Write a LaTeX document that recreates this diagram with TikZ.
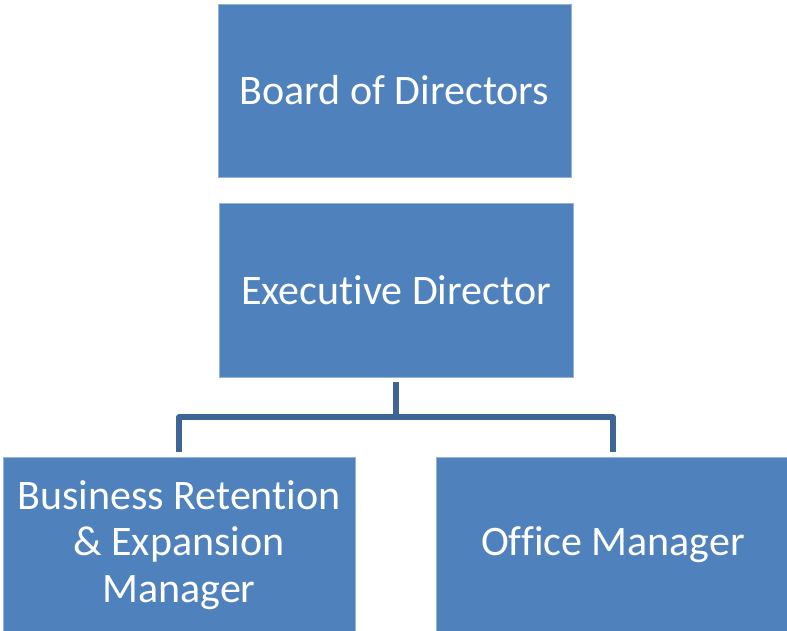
\documentclass[tikz,border=0pt]{standalone}
\usepackage{fontspec}
\setmainfont{Carlito}[Ligatures={NoCommon}]
\definecolor{boxblue}{HTML}{4F81BD}
\definecolor{connblue}{HTML}{3E6595}
\begin{document}
\begin{tikzpicture}[x=1pt,y=-1pt,
  orgbox/.style={rectangle, fill=boxblue, draw=boxblue!60!white, line width=0.6pt, inner sep=0pt,
    text=white, align=center, font=\fontsize{42}{46.5}\selectfont},
  conn/.style={draw=connblue, line width=5.3pt, line join=round}]
\useasboundingbox (0,0) rectangle (787,630);
\clip (0,0) rectangle (787,630);
\node[orgbox, minimum width=353pt, minimum height=173pt] (board) at (394.5,90.5) {Board of Directors};
\node[orgbox, minimum width=354pt, minimum height=174pt] (exec) at (396,290) {Executive Director};
\node[orgbox, minimum width=352pt, minimum height=176pt] (brem) at (179,545) {Business Retention\\\& Expansion\\Manager};
\node[orgbox, minimum width=354pt, minimum height=176pt] (offm) at (613,545) {Office Manager};
\coordinate (mid) at (396,417);
\draw[conn, shorten <=5pt] (exec.south) -- (mid);
\draw[conn, shorten <=5pt, shorten >=5pt] (brem.north) |- (mid) -| (offm.north);
\end{tikzpicture}
\end{document}
